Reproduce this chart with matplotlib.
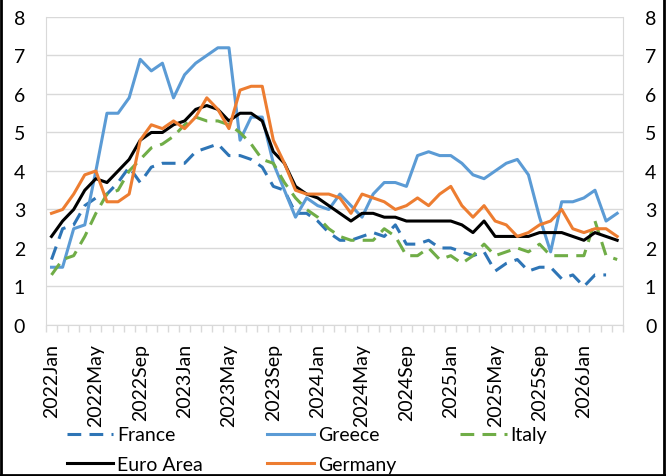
import numpy as np
import pandas as pd
import matplotlib
matplotlib.use('Agg')
import matplotlib.pyplot as plt
from matplotlib.lines import Line2D

plt.rcParams['font.family'] = ['Lato', 'DejaVu Sans']

# monthly categories 2022Jan .. 2026Apr
months = pd.date_range('2022-01-01', periods=52, freq='MS')
month_labels = [d.strftime('%Y%b') for d in months]

france = [1.7, 2.5, 2.6, 3.1, 3.3, 3.4, 3.7, 4.1, 3.7, 4.1, 4.2, 4.2,
          4.2, 4.5, 4.6, 4.7, 4.4, 4.4, 4.3, 4.1, 3.6, 3.5, 2.9, 2.9,
          2.7, 2.4, 2.2, 2.2, 2.3, 2.4, 2.3, 2.6, 2.1, 2.1, 2.2, 2.0,
          2.0, 1.9, 1.8, 1.9, 1.4, 1.6, 1.7, 1.4, 1.5, 1.5, 1.2, 1.3,
          1.0, 1.3, 1.3, np.nan]
greece = [1.5, 1.5, 2.5, 2.6, 4.0, 5.5, 5.5, 5.9, 6.9, 6.6, 6.8, 5.9,
          6.5, 6.8, 7.0, 7.2, 7.2, 4.8, 5.4, 5.4, 4.2, 3.5, 2.8, 3.3,
          3.1, 3.0, 3.4, 3.1, 2.8, 3.4, 3.7, 3.7, 3.6, 4.4, 4.5, 4.4,
          4.4, 4.2, 3.9, 3.8, 4.0, 4.2, 4.3, 3.9, 2.8, 1.9, 3.2, 3.2,
          3.3, 3.5, 2.7, 2.9]
italy = [1.3, 1.7, 1.8, 2.3, 2.9, 3.4, 3.5, 4.0, 4.3, 4.6, 4.7, 4.9,
         5.2, 5.4, 5.3, 5.3, 5.2, 5.0, 4.7, 4.3, 4.2, 3.7, 3.3, 3.0,
         2.8, 2.5, 2.3, 2.2, 2.2, 2.2, 2.5, 2.3, 1.8, 1.8, 2.0, 1.7,
         1.8, 1.6, 1.8, 2.1, 1.8, 1.9, 2.0, 1.9, 2.1, 1.8, 1.8, 1.8,
         1.8, 2.7, 1.8, 1.7]
euro_area = [2.3, 2.7, 3.0, 3.5, 3.8, 3.7, 4.0, 4.3, 4.8, 5.0, 5.0, 5.2,
             5.3, 5.6, 5.7, 5.6, 5.3, 5.5, 5.5, 5.3, 4.5, 4.2, 3.6, 3.4,
             3.3, 3.1, 2.9, 2.7, 2.9, 2.9, 2.8, 2.8, 2.7, 2.7, 2.7, 2.7,
             2.7, 2.6, 2.4, 2.7, 2.3, 2.3, 2.3, 2.3, 2.4, 2.4, 2.4, 2.3,
             2.2, 2.4, 2.3, 2.2]
germany = [2.9, 3.0, 3.4, 3.9, 4.0, 3.2, 3.2, 3.4, 4.8, 5.2, 5.1, 5.3,
           5.1, 5.4, 5.9, 5.6, 5.1, 6.1, 6.2, 6.2, 4.8, 4.2, 3.5, 3.4,
           3.4, 3.4, 3.3, 2.9, 3.4, 3.3, 3.2, 3.0, 3.1, 3.3, 3.1, 3.4,
           3.6, 3.1, 2.8, 3.1, 2.7, 2.6, 2.3, 2.4, 2.6, 2.7, 3.0, 2.5,
           2.4, 2.5, 2.5, 2.3]

grid_col = '#D9D9D9'
dash = (0, (4.5, 2.7))

fig = plt.figure(figsize=(6.66, 4.77), dpi=100)
ax = fig.add_axes([0.069, 0.3166, 0.866, 0.6457])
x = np.arange(len(month_labels))

l_fr, = ax.plot(x, france, color='#2E75B6', lw=2.2, ls=dash, label='France')
l_gr, = ax.plot(x, greece, color='#5B9BD5', lw=2.2, solid_joinstyle='round', label='Greece')
l_it, = ax.plot(x, italy, color='#70AD47', lw=2.2, ls=dash, label='Italy')
l_ea, = ax.plot(x, euro_area, color='black', lw=2.2, solid_joinstyle='round', label='Euro Area')
l_de, = ax.plot(x, germany, color='#ED7D31', lw=2.2, solid_joinstyle='round', label='Germany')

ax.set_xlim(-0.5, len(x) - 0.5)
ax.set_ylim(0, 8)
ax.set_yticks(range(0, 9))
ax.yaxis.grid(True, color=grid_col, lw=1)
ax.set_axisbelow(True)

ax.set_xticks(x[::4])
ax.set_xticklabels(month_labels[::4], rotation=90, fontsize=14)
ax.set_xticks(np.arange(-0.5, len(x), 1), minor=True)
ax.tick_params(axis='x', which='major', length=0, pad=13)
ax.tick_params(axis='x', which='minor', length=5, color=grid_col, width=1)
ax.tick_params(axis='y', length=0, pad=15, labelsize=14)

for s in ['top', 'right']:
    ax.spines[s].set_visible(False)
ax.spines['left'].set_color(grid_col)
ax.spines['bottom'].set_color(grid_col)

ax2 = ax.twinx()
ax2.set_ylim(0, 8)
ax2.set_yticks(range(0, 9))
ax2.tick_params(axis='y', length=0, pad=16, labelsize=14)
for s in ['top', 'left', 'bottom']:
    ax2.spines[s].set_visible(False)
ax2.spines['right'].set_color(grid_col)

# Excel fills the legend row by row, matplotlib column by column
fig.legend([l_fr, l_ea, l_gr, l_de, l_it],
           ['France', 'Euro Area', 'Greece', 'Germany', 'Italy'],
           ncol=3, loc='upper left', bbox_to_anchor=(0.1, 0.104),
           frameon=False, fontsize=14, borderpad=0, borderaxespad=0,
           handlelength=2.4, handletextpad=0.2, columnspacing=3.3,
           labelspacing=0.66)

# frame round the picture
for xs, ys in [([0.002, 0.002], [0, 1]), ([0.997, 0.997], [0, 1]), ([0, 1], [0.003, 0.003])]:
    fig.add_artist(Line2D(xs, ys, transform=fig.transFigure, color='black', lw=2))

fig.savefig('out.png', dpi=100)
